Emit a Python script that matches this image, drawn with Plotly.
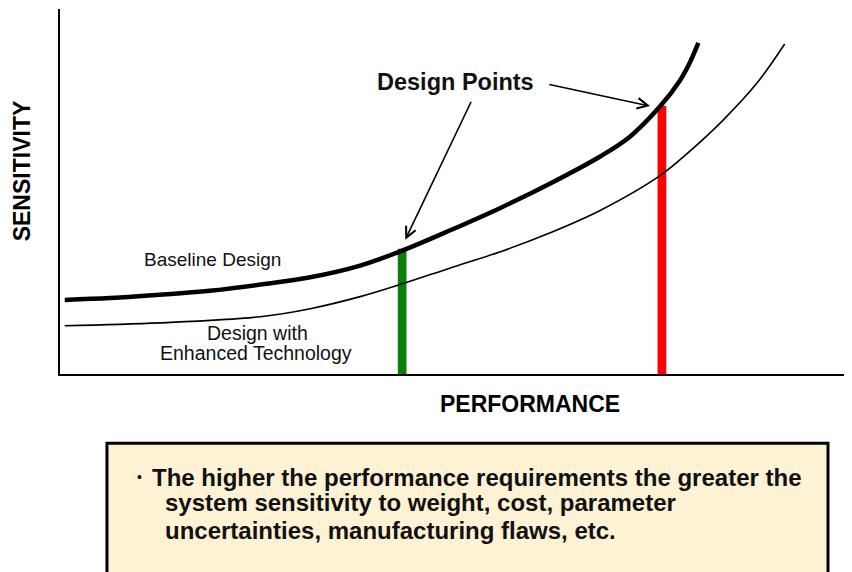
import plotly.graph_objects as go

# performance / sensitivity in arbitrary units (0..100 on both axes)
baseline_perf = [0.6, 6.3, 12.6, 18.9, 25.3, 31.6, 37.9, 43.2, 49.2, 55.6, 61.9, 68.2, 72.0, 75.8, 78.3, 79.5, 80.6]
baseline_sens = [20.3, 20.8, 21.7, 22.8, 24.5, 26.5, 29.7, 33.8, 39.3, 45.5, 52.2, 59.6, 65.1, 73.4, 80.5, 85.2, 90.7]

enhanced_perf = [0.6, 12.6, 25.3, 31.6, 37.9, 43.2, 49.2, 55.6, 61.9, 68.2, 75.8, 79.5, 83.7, 88.0, 91.5]
enhanced_sens = [13.2, 14.0, 15.7, 17.9, 21.2, 24.7, 29.0, 33.5, 38.7, 44.8, 54.4, 61.0, 69.5, 79.7, 90.4]

design_perf = [43.2, 76.0]
design_sens = [34.3, 73.4]
design_colors = ["#0A800A", "#FF0000"]

box_lines = [
    "The higher the performance requirements the greater the",
    "system sensitivity to weight, cost, parameter",
    "uncertainties, manufacturing flaws, etc.",
]

FONT = "Liberation Sans, Arial, sans-serif"

fig = go.Figure()
fig.add_trace(go.Scatter(
    x=enhanced_perf, y=enhanced_sens, mode="lines",
    line=dict(color="black", width=1.6, shape="spline"),
    name="Design with Enhanced Technology",
))
fig.add_trace(go.Scatter(
    x=baseline_perf, y=baseline_sens, mode="lines",
    line=dict(color="black", width=4.5, shape="spline"),
    name="Baseline Design",
))
fig.add_trace(go.Bar(
    x=design_perf, y=design_sens, width=1.1,
    marker=dict(color=design_colors, line=dict(width=0)),
    name="Design Points",
))

# arrows from the "Design Points" label to each point
arrows = [((43.6, 36.8), (52.0, 75.0)), ((74.5, 73.4), (61.6, 79.4))]
for (hx, hy), (tx, ty) in arrows:
    fig.add_annotation(
        x=hx, y=hy, ax=tx, ay=ty, axref="x", ayref="y", xref="x", yref="y",
        text="", showarrow=True, arrowhead=5, arrowsize=1.3, arrowwidth=1.6,
        arrowcolor="black",
    )

labels = [
    (49.9, 79.9, "<b>Design Points</b>", 23.5),
    (19.3, 31.3, "Baseline Design", 19),
    (24.9, 11.3, "Design with", 19.5),
    (24.7, 5.8, "Enhanced Technology", 19.5),
]
for x, y, t, s in labels:
    fig.add_annotation(x=x, y=y, text=t, showarrow=False,
                       xanchor="center", yanchor="middle",
                       font=dict(family=FONT, size=s, color="#111111"))

fig.add_annotation(x=-0.048, y=0.558, xref="paper", yref="paper",
                   xanchor="center", yanchor="middle",
                   text="<b>SENSITIVITY</b>", textangle=-90, showarrow=False,
                   font=dict(family=FONT, size=23, color="black"))
fig.add_annotation(x=0.593, y=-0.082, xref="paper", yref="paper",
                   xanchor="center", yanchor="middle",
                   text="<b>PERFORMANCE</b>", showarrow=False,
                   font=dict(family=FONT, size=23, color="black"))

# note box below the chart
fig.add_shape(type="rect", xref="paper", yref="paper",
              x0=0.0593, x1=0.9697, y0=-0.1896, y1=-0.65,
              fillcolor="#FEF2D4", line=dict(color="black", width=3))
fig.add_annotation(x=0.101, y=-0.283, xref="paper", yref="paper",
                   xanchor="center", yanchor="middle",
                   text="•", showarrow=False,
                   font=dict(family=FONT, size=14, color="black"))
for i, (line, y) in enumerate(zip(box_lines, [-0.283, -0.3516, -0.4286])):
    fig.add_annotation(x=0.1136 if i == 0 else 0.130, y=y, xref="paper", yref="paper",
                       xanchor="left", yanchor="middle",
                       text=f"<b>{line}</b>", showarrow=False,
                       font=dict(family=FONT, size=24, color="#111111"))

# page body adds an 8px margin, so the figure is 8px smaller than the window
fig.update_layout(
    width=844, height=564,
    margin=dict(l=52, r=0, t=1, b=198),
    paper_bgcolor="white", plot_bgcolor="white",
    showlegend=False,
    xaxis=dict(range=[0, 100], showgrid=False, zeroline=False, showticklabels=False,
               ticks="", showline=True, linecolor="black", linewidth=2),
    yaxis=dict(range=[0, 100], showgrid=False, zeroline=False, showticklabels=False,
               ticks="", showline=True, linecolor="black", linewidth=2),
)

fig.write_html("out.html")
